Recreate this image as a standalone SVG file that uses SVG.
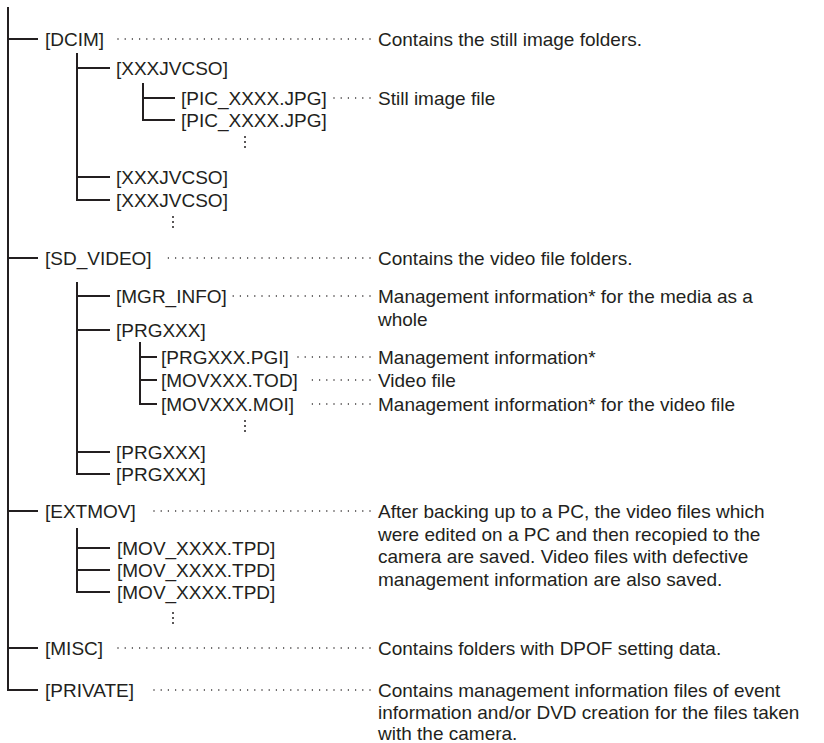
<svg xmlns="http://www.w3.org/2000/svg" width="824" height="743" viewBox="0 0 824 743">
<style>
text{font-family:"Liberation Sans",Arial,sans-serif;font-size:19px;fill:#231f20}
.c{fill:none;stroke:#231f20;stroke-width:2}
.d{fill:none;stroke:#231f20;stroke-width:1.5;stroke-linecap:round;stroke-dasharray:0 7.2}
.v{fill:#231f20}
</style>
<rect width="824" height="743" fill="#fff"/>
<g id="connectors">
<path class="c" d="M8 7V690H38M8 39H38M8 258H38M8 511H38M8 648H38"/>
<path class="c" d="M77 53V200H110M77 68H110M77 177H110"/>
<path class="c" d="M143 83V120H175M143 98H175"/>
<path class="c" d="M77 282V474H110M77 296H110M77 330H110M77 452H110"/>
<path class="c" d="M140 342V404H157M140 357H157M140 380H157"/>
<path class="c" d="M77 528V592H110M77 548H110M77 570H110"/>
<path class="d" d="M370 39H118M370 98H333M370 258H162M370 296H233M370 357H297M370 380H310M370 404H307M370 511H147M370 648H118M370 690H147"/>
<g class="v">
<circle cx="245" cy="137" r="1"/><circle cx="245" cy="142" r="1"/><circle cx="245" cy="147" r="1"/>
<circle cx="173" cy="217" r="1"/><circle cx="173" cy="222" r="1"/><circle cx="173" cy="227" r="1"/>
<circle cx="245" cy="421" r="1"/><circle cx="245" cy="426" r="1"/><circle cx="245" cy="431" r="1"/>
<circle cx="173" cy="613" r="1"/><circle cx="173" cy="618" r="1"/><circle cx="173" cy="623" r="1"/>
</g>
</g>
<g id="dcim"><text x="45" y="46">[DCIM]</text><text x="378" y="46">Contains the still image folders.</text></g>
<g id="xxxjvcso1"><text x="116" y="75">[XXXJVCSO]</text></g>
<g id="pic1"><text x="181" y="105">[PIC_XXXX.JPG]</text><text x="378" y="105">Still image file</text></g>
<g id="pic2"><text x="181" y="127">[PIC_XXXX.JPG]</text></g>
<g id="xxxjvcso2"><text x="116" y="184">[XXXJVCSO]</text></g>
<g id="xxxjvcso3"><text x="116" y="207">[XXXJVCSO]</text></g>
<g id="sd_video"><text x="45" y="265">[SD_VIDEO]</text><text x="378" y="265">Contains the video file folders.</text></g>
<g id="mgr_info"><text x="116" y="303">[MGR_INFO]</text><text x="378" y="303">Management information* for the media as a</text><text x="378" y="326">whole</text></g>
<g id="prgxxx1"><text x="116" y="337">[PRGXXX]</text></g>
<g id="prgxxx_pgi"><text x="161" y="364">[PRGXXX.PGI]</text><text x="378" y="364">Management information*</text></g>
<g id="movxxx_tod"><text x="161" y="387">[MOVXXX.TOD]</text><text x="378" y="387">Video file</text></g>
<g id="movxxx_moi"><text x="161" y="411">[MOVXXX.MOI]</text><text x="378" y="411">Management information* for the video file</text></g>
<g id="prgxxx2"><text x="116" y="459">[PRGXXX]</text></g>
<g id="prgxxx3"><text x="116" y="481">[PRGXXX]</text></g>
<g id="extmov"><text x="45" y="518">[EXTMOV]</text>
<text x="378" y="518">After backing up to a PC, the video files which</text>
<text x="378" y="540.7">were edited on a PC and then recopied to the</text>
<text x="378" y="563.4">camera are saved. Video files with defective</text>
<text x="378" y="586">management information are also saved.</text></g>
<g id="mov1"><text x="117" y="555">[MOV_XXXX.TPD]</text></g>
<g id="mov2"><text x="117" y="577">[MOV_XXXX.TPD]</text></g>
<g id="mov3"><text x="117" y="599">[MOV_XXXX.TPD]</text></g>
<g id="misc"><text x="45" y="655">[MISC]</text><text x="378" y="655">Contains folders with DPOF setting data.</text></g>
<g id="private"><text x="45" y="697">[PRIVATE]</text>
<text x="378" y="697">Contains management information files of event</text>
<text x="378" y="718.5">information and/or DVD creation for the files taken</text>
<text x="378" y="740">with the camera.</text></g>
</svg>
